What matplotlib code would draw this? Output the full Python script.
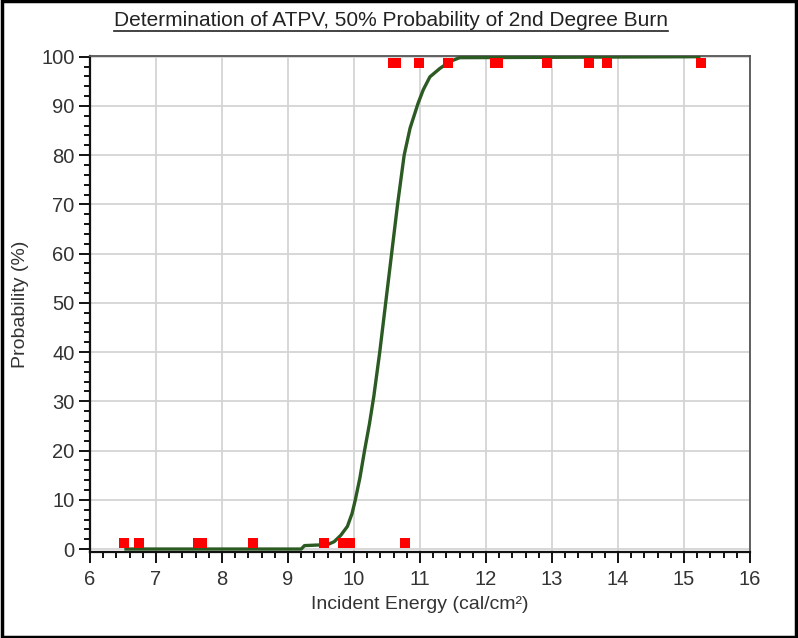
import matplotlib
matplotlib.use("Agg")
import matplotlib.pyplot as plt
from matplotlib.ticker import MultipleLocator
from matplotlib.lines import Line2D
from matplotlib.patches import Rectangle

plt.rcParams['font.family'] = ['Liberation Sans', 'DejaVu Sans']

# Observed data (burn = 1, no burn = 0), plotted slightly inside the axis
no_burn_x = [6.52, 6.75, 7.63, 7.69, 8.47, 9.55, 9.84, 9.94, 10.78]
no_burn_y = [1.2] * len(no_burn_x)
burn_x = [10.59, 10.63, 10.99, 11.43, 12.14, 12.18, 12.92, 13.56, 13.83, 15.25]
burn_y = [98.8] * len(burn_x)

# Fitted probability curve
curve_x = [6.52, 9.20, 9.25, 9.60, 9.70, 9.80, 9.90, 9.97, 10.02, 10.09, 10.16,
           10.235, 10.30, 10.39, 10.48, 10.57, 10.66, 10.76, 10.85, 10.97, 11.05,
           11.15, 11.30, 11.45, 11.60, 15.25]
curve_y = [0.0, 0.0, 0.7, 0.9, 1.5, 2.8, 4.6, 7.2, 10.0, 14.5, 20.0,
           25.5, 31.0, 40.0, 50.0, 60.0, 70.0, 80.0, 85.5, 90.5, 93.3,
           95.9, 97.6, 99.0, 99.8, 100.0]

title = "Determination of ATPV, 50% Probability of 2nd Degree Burn"
xlabel = "Incident Energy (cal/cm\u00b2)"
ylabel = "Probability (%)"

W, H = 798, 638
fig = plt.figure(figsize=(W / 100, H / 100), dpi=100)
fig.patch.set_facecolor('white')

left, right, top, bottom = 90, 750, 55.7, 552
ax = fig.add_axes([left / W, 1 - bottom / H, (right - left) / W, (bottom - top) / H])
ax.set_xlim(6, 16)
ax.set_ylim(-0.6, 100.2)

ax.grid(True, which='major', color='#d4d4d4', linewidth=1.3)
ax.set_axisbelow(True)

ax.plot(curve_x, curve_y, color='#2b5a22', linewidth=2.4, zorder=3, solid_capstyle='butt')
ax.plot(no_burn_x, no_burn_y, 's', color='#ff0000', markersize=7.5, markeredgewidth=0, zorder=4, clip_on=False)
ax.plot(burn_x, burn_y, 's', color='#ff0000', markersize=7.5, markeredgewidth=0, zorder=4, clip_on=False)

ax.xaxis.set_major_locator(MultipleLocator(1))
ax.xaxis.set_minor_locator(MultipleLocator(0.2))
ax.yaxis.set_major_locator(MultipleLocator(10))
ax.yaxis.set_minor_locator(MultipleLocator(2))

ax.tick_params(axis='both', which='major', direction='out', length=8, width=1.4,
               colors='#111111', labelsize=14.5, labelcolor='#333333')
ax.tick_params(axis='both', which='minor', direction='out', length=4.5, width=1.4,
               colors='#111111')
ax.tick_params(axis='x', pad=5)
ax.tick_params(axis='y', pad=3)

for s in ['left', 'bottom']:
    ax.spines[s].set_color('#111111')
    ax.spines[s].set_linewidth(1.6)
for s in ['top', 'right']:
    ax.spines[s].set_color('#555555')
    ax.spines[s].set_linewidth(1.3)

ax.set_xlabel(xlabel, fontsize=14, color='#333333', labelpad=5)
ax.set_ylabel(ylabel, fontsize=14, color='#333333', labelpad=9)

t = fig.text(391 / W, 1 - 20 / H, title, ha='center', va='center', fontsize=15, color='#222222')

# border around the figure
fig.patches.append(Rectangle((0.002, 0.002), 0.996, 0.996, transform=fig.transFigure,
                             fill=False, edgecolor='black', linewidth=2.5))

# underline the title
fig.canvas.draw()
bb = t.get_window_extent()
y_line = bb.y0 - 1
fig.add_artist(Line2D([bb.x0 / W, bb.x1 / W], [y_line / H, y_line / H],
                      transform=fig.transFigure, color='#222222', linewidth=1.2))

fig.savefig('out.png', dpi=100, facecolor='white')
